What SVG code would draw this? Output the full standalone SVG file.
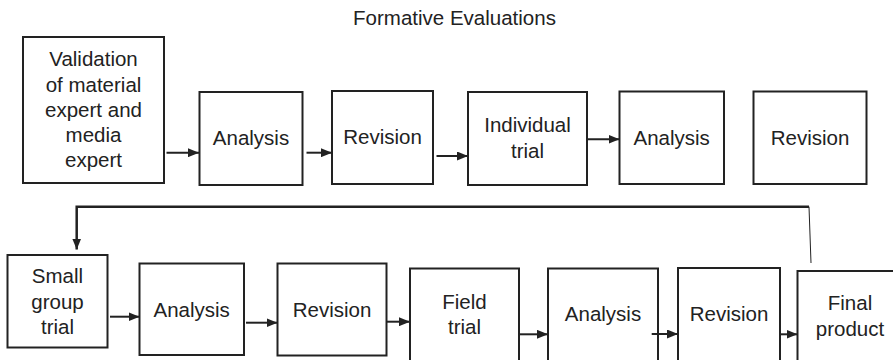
<svg xmlns="http://www.w3.org/2000/svg" width="893" height="360" viewBox="0 0 893 360">
<defs>
<style>
.box{fill:#fff;stroke:#222;stroke-width:2}
.t{font-family:"Liberation Sans",Arial,sans-serif;font-size:20.5px;fill:#222;text-anchor:middle}
.c{fill:none;stroke:#222;stroke-width:2}
</style>
<marker id="ah" viewBox="0 0 11 9" refX="11" refY="4.5" markerWidth="11" markerHeight="9" markerUnits="userSpaceOnUse" orient="auto">
<path d="M0,0 L11,4.5 L0,9 z" fill="#222"/>
</marker>
</defs>
<rect width="893" height="360" fill="#fff"/>
<text class="t" x="454.5" y="25">Formative Evaluations</text>
<g id="n1"><rect class="box" x="23" y="37" width="141" height="146"/>
<text class="t" x="93.5" y="66">Validation</text><text class="t" x="93.5" y="92">of material</text><text class="t" x="93.5" y="117">expert and</text><text class="t" x="93.5" y="142">media</text><text class="t" x="93.5" y="167">expert</text></g>
<g id="n2"><rect class="box" x="199.5" y="92" width="103" height="93"/><text class="t" x="251" y="145">Analysis</text></g>
<g id="n3"><rect class="box" x="332" y="91" width="101" height="93"/><text class="t" x="382.5" y="144">Revision</text></g>
<g id="n4"><rect class="box" x="468" y="92" width="119" height="93"/><text class="t" x="527.5" y="132">Individual</text><text class="t" x="527.5" y="158">trial</text></g>
<g id="n5"><rect class="box" x="619.5" y="91.5" width="104.5" height="92.5"/><text class="t" x="671.7" y="145">Analysis</text></g>
<g id="n6"><rect class="box" x="753.5" y="91.5" width="113" height="92.5"/><text class="t" x="810" y="145">Revision</text></g>
<g id="n7"><rect class="box" x="7.5" y="255" width="100" height="92.5"/><text class="t" x="57.5" y="283">Small</text><text class="t" x="57.5" y="308.5">group</text><text class="t" x="57.5" y="334">trial</text></g>
<g id="n8"><rect class="box" x="139.5" y="263.5" width="104.5" height="91.5"/><text class="t" x="191.7" y="316.7">Analysis</text></g>
<g id="n9"><rect class="box" x="277.5" y="263.5" width="109" height="92"/><text class="t" x="332" y="317">Revision</text></g>
<g id="n10"><rect class="box" x="410" y="268.5" width="109" height="95"/><text class="t" x="464.5" y="308.5">Field</text><text class="t" x="464.5" y="334">trial</text></g>
<g id="n11"><rect class="box" x="548" y="268.5" width="110" height="95"/><text class="t" x="603" y="320.7">Analysis</text></g>
<g id="n12"><rect class="box" x="678" y="268" width="102" height="95"/><text class="t" x="729" y="320.7">Revision</text></g>
<g id="n13"><rect class="box" x="797.5" y="271" width="100" height="95"/><text class="t" x="850" y="310">Final</text><text class="t" x="850" y="336">product</text></g>
<g id="connectors">
<line class="c" x1="166.5" y1="152.7" x2="199" y2="152.7" marker-end="url(#ah)"/>
<line class="c" x1="306.5" y1="152.7" x2="332" y2="152.7" marker-end="url(#ah)"/>
<line class="c" x1="436.5" y1="156" x2="468" y2="156" marker-end="url(#ah)"/>
<line class="c" x1="587" y1="139.3" x2="619.5" y2="139.3" marker-end="url(#ah)"/>
<path class="c" style="stroke-width:2.5" d="M809,206.7 L76.7,206.7 L76.7,249.5" marker-end="url(#ah)"/>
<line class="c" style="stroke-width:1" x1="809" y1="206.7" x2="811" y2="263"/>
<line class="c" x1="110" y1="316.7" x2="139.5" y2="316.7" marker-end="url(#ah)"/>
<line class="c" x1="246" y1="322.7" x2="277.5" y2="322.7" marker-end="url(#ah)"/>
<line class="c" x1="386.7" y1="321.7" x2="410" y2="321.7" marker-end="url(#ah)"/>
<line class="c" x1="519" y1="334.3" x2="548" y2="334.3" marker-end="url(#ah)"/>
<line class="c" x1="651.7" y1="334" x2="678" y2="334" marker-end="url(#ah)"/>
<line class="c" x1="780" y1="334.3" x2="797.5" y2="334.3" marker-end="url(#ah)"/>
</g>
</svg>
